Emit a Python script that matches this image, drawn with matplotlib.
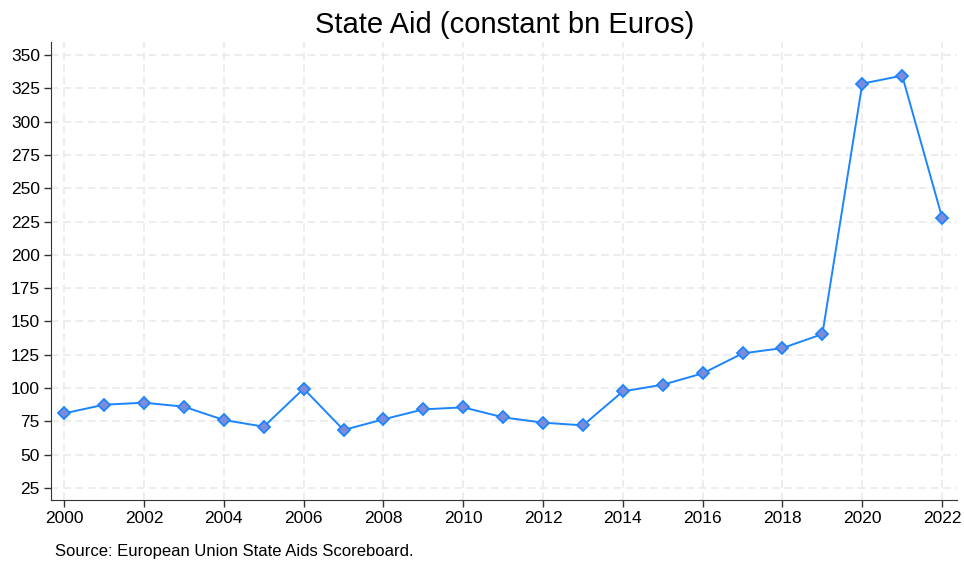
import numpy as np
import matplotlib
matplotlib.use("Agg")
import matplotlib.pyplot as plt

plt.rcParams['font.family'] = ['Liberation Sans', 'DejaVu Sans']

years = list(range(2000, 2023))
state_aid = [81, 87.5, 89, 86, 76, 71, 99.5, 68.5, 76.5, 84, 85.5, 78, 74, 72,
             97.5, 102.5, 111, 126, 130, 140.5, 328.5, 334.5, 228]
yticks = list(range(25, 351, 25))
xticks = list(range(2000, 2023, 2))

fig = plt.figure(figsize=(9.64, 5.63), dpi=100)
ax = fig.add_axes([0.053, 0.112, 0.940, 0.814])

ax.plot(years, state_aid, color='#1a85ff', lw=1.4, marker='D', ms=6,
        mfc='#7f8bd8', mec='#1a85ff', mew=1.3, zorder=3)

ax.set_xlim(1999.67, 2022.38)
ax.set_ylim(16, 360)
ax.set_xticks(xticks)
ax.set_yticks(yticks)
ax.tick_params(labelsize=12.5, length=5, width=1, color='#333333', pad=3)
ax.grid(True, color='#e8e8e8', ls=(0, (5, 3)), lw=1.1)
ax.set_axisbelow(True)
for s in ['top', 'right']:
    ax.spines[s].set_visible(False)
for s in ['left', 'bottom']:
    ax.spines[s].set_color('#333333')

ax.set_title('State Aid (constant bn Euros)', fontsize=21, pad=6)
fig.text(0.057, 0.012, 'Source: European Union State Aids Scoreboard.', fontsize=12)

fig.savefig('out.png', dpi=100)
